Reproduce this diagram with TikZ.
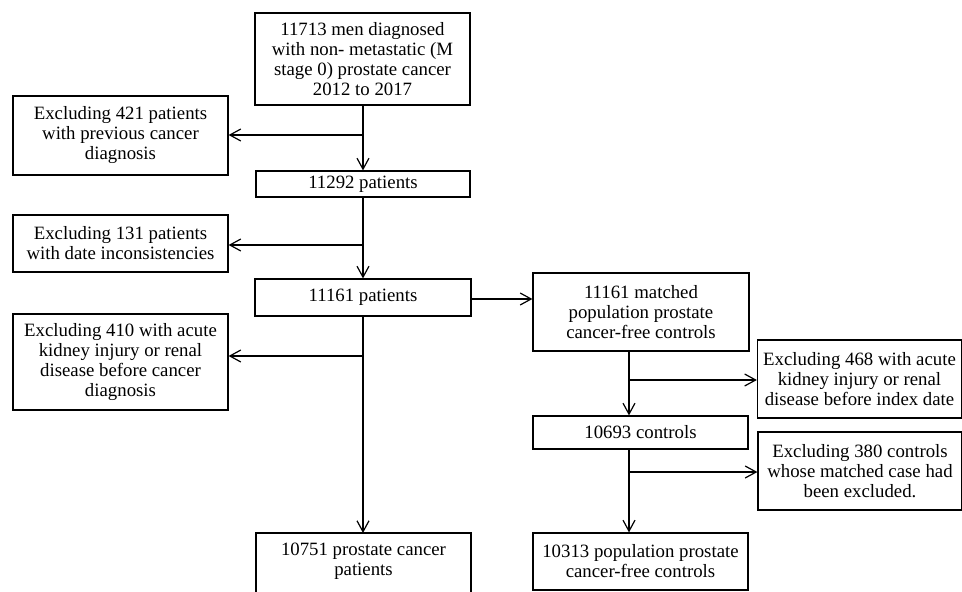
\documentclass[tikz,border=0pt]{standalone}
\usepackage{fontspec}
\setmainfont{Liberation Serif}
\usetikzlibrary{arrows.meta}
\begin{document}
\begin{tikzpicture}[x=1pt,y=-1pt,
  box/.style={draw, line width=1.2pt, align=center, inner sep=0pt,
    font=\fontsize{18.8}{20}\selectfont},
  txt/.style={align=center, inner sep=0pt, font=\fontsize{18.8}{20}\selectfont},
  arr/.style={line width=1.2pt, -{Straight Barb[length=11pt,width=12pt,line width=1.2pt]}},
  ln/.style={line width=1.2pt}]
\useasboundingbox (0,0) rectangle (962,592);
% main column
\node[box, minimum width=215pt, minimum height=92pt] (top) at (362.5,59)
  {11713 men diagnosed\\with non- metastatic (M\\stage 0) prostate cancer\\2012 to 2017};
\node[box, minimum width=214pt, minimum height=26pt] (n2) at (363,184) {11292 patients};
\node[box, minimum width=216pt, minimum height=37pt] (n3) at (363,297.5) {11161 patients};
\node[txt] (f1) at (363.5,561.5) {10751 prostate cancer\\patients};
\draw[ln] (256,533) rectangle (471,600);
% exclusions left
\node[box, minimum width=215pt, minimum height=79pt] (e1) at (120.5,135.5)
  {Excluding 421 patients\\with previous cancer\\diagnosis};
\node[box, minimum width=215pt, minimum height=57pt] (e2) at (120.5,243.5)
  {Excluding 131 patients\\with date inconsistencies};
\node[box, minimum width=215pt, minimum height=96pt] (e3) at (120.5,362)
  {Excluding 410 with acute\\kidney injury or renal\\disease before cancer\\diagnosis};
% control column
\node[box, minimum width=216pt, minimum height=78pt] (c1) at (641,312)
  {11161 matched\\population prostate\\cancer-free controls};
\node[box, minimum width=215pt, minimum height=33pt] (c2) at (640.5,432.5) {10693 controls};
\node[box, minimum width=215pt, minimum height=57pt] (c3) at (640.5,561.5)
  {10313 population prostate\\cancer-free controls};
\node[box, minimum width=204pt, minimum height=78pt] (x4) at (859.5,379)
  {Excluding 468 with acute\\kidney injury or renal\\disease before index date};
\node[box, minimum width=204pt, minimum height=78pt] (x5) at (860,471)
  {Excluding 380 controls\\whose matched case had\\been excluded.};
% branch points
\coordinate (b1) at (363,135);
\coordinate (b2) at (363,245);
\coordinate (b3) at (363,356);
\coordinate (m1) at (471,299);
\coordinate (p1) at (629,351);
\coordinate (b4) at (629,380);
\coordinate (p2) at (629,449);
\coordinate (b5) at (629,472);
\coordinate (f1top) at (363,533);
% connectors
\draw[arr] (top.south -| b1) -- (n2.north -| b1);
\draw[arr] (b1) -- (b1 -| e1.east);
\draw[arr] (n2.south -| b2) -- (n3.north -| b2);
\draw[arr] (b2) -- (b2 -| e2.east);
\draw[arr] (n3.south -| b3) -- (f1top);
\draw[arr] (b3) -- (b3 -| e3.east);
\draw[arr] (n3.east |- m1) -- (m1 -| c1.west);
\draw[arr] (p1) -- (c2.north -| p1);
\draw[arr] (b4) -- (b4 -| x4.west);
\draw[arr] (p2) -- (c3.north -| p2);
\draw[arr] (b5) -- (b5 -| x5.west);
\end{tikzpicture}
\end{document}
